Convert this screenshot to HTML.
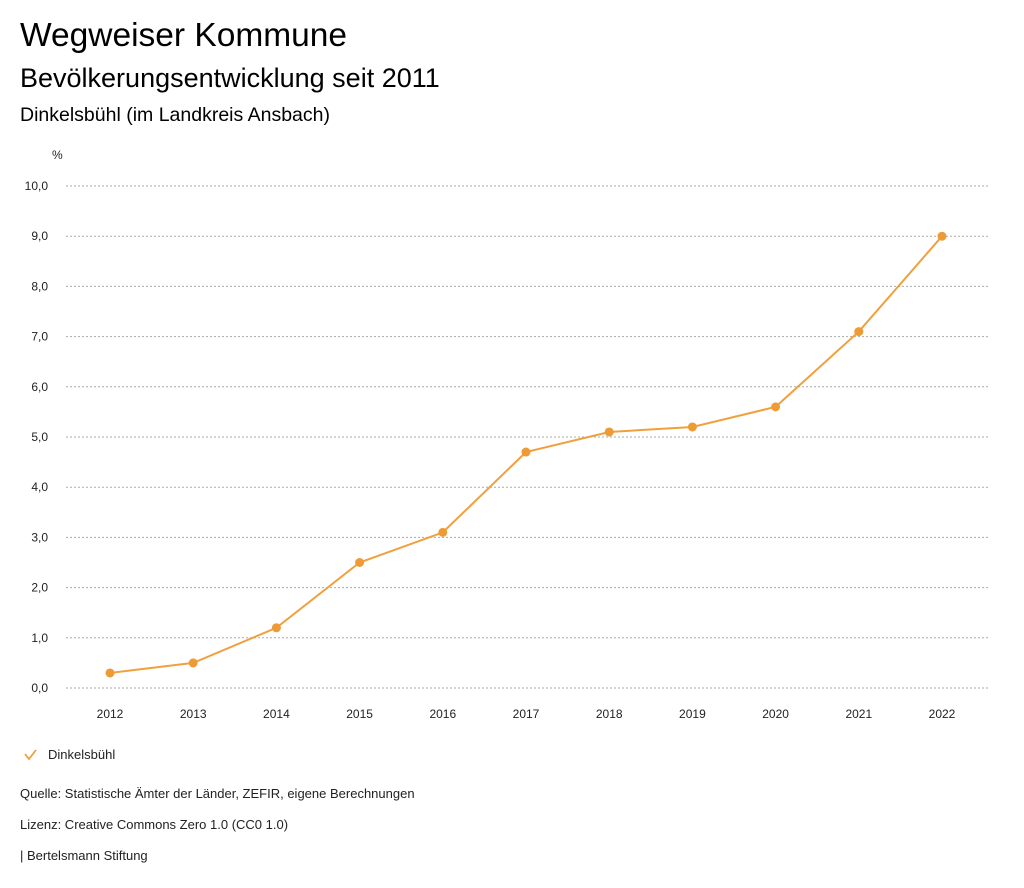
<!DOCTYPE html>
<html><head><meta charset="utf-8"><style>
body{margin:0;width:1024px;height:888px;background:#fff;font-family:"Liberation Sans","DejaVu Sans",sans-serif;color:#000;position:relative;overflow:hidden}
.t{position:absolute;left:20px;white-space:nowrap}
</style></head><body>
<div class="t" style="top:17px;font-size:33.5px">Wegweiser Kommune</div>
<div class="t" style="top:63px;font-size:27px">Bevölkerungsentwicklung seit 2011</div>
<div class="t" style="top:104px;font-size:19.5px">Dinkelsbühl (im Landkreis Ansbach)</div>
<svg id="chart" width="1024" height="888" style="position:absolute;left:0;top:0" font-family="Liberation Sans, DejaVu Sans, sans-serif"></svg>
<div class="t" style="top:786px;font-size:13px;color:#222">Quelle: Statistische Ämter der Länder, ZEFIR, eigene Berechnungen</div>
<div class="t" style="top:817px;font-size:13px;color:#222">Lizenz: Creative Commons Zero 1.0 (CC0 1.0)</div>
<div class="t" style="top:848px;font-size:13px;color:#222">| Bertelsmann Stiftung</div>
<script>
const years=["2012","2013","2014","2015","2016","2017","2018","2019","2020","2021","2022"];
const values=[0.3,0.5,1.2,2.5,3.1,4.7,5.1,5.2,5.6,7.1,9.0];
const yTicks=[0,1,2,3,4,5,6,7,8,9,10];
const NS="http://www.w3.org/2000/svg",svg=document.getElementById('chart');
const x=i=>110+i*(942-110)/(years.length-1);
const y=v=>688-v*50.2;
function mk(t,a){const e=document.createElementNS(NS,t);for(const k in a)e.setAttribute(k,a[k]);svg.appendChild(e);return e;}
let u=mk('text',{x:52,y:159,'font-size':12,fill:'#222'});u.textContent='%';


yTicks.forEach(v=>{
 const l=mk('line',{x1:66,x2:990,y1:y(v),y2:y(v),stroke:'#aaa','stroke-dasharray':'2,2','stroke-width':1});
 
 
 const t=mk('text',{x:48,y:y(v)+4,'text-anchor':'end','font-size':12,fill:'#222'});
 t.textContent=v.toFixed(1).replace('.',',');
 
 
});
years.forEach((yr,i)=>{
 const t=mk('text',{x:x(i),y:718,'text-anchor':'middle','font-size':12,fill:'#222'});
 t.textContent=yr;
 
 
});
const p=mk('polyline',{points:values.map((v,i)=>x(i)+','+y(v)).join(' '),fill:'none',stroke:'#f0a03c','stroke-width':2});


values.forEach((v,i)=>{
 const c=mk('circle',{cx:x(i),cy:y(v),r:4.5,fill:'#ee9a35'});
 
 
});
const ck=mk('polyline',{points:'25,754 29,759 36,750',fill:'none',stroke:'#f0a03c','stroke-width':1.8});


const lt=mk('text',{x:48,y:759,'font-size':13,fill:'#222'});
lt.textContent='Dinkelsbühl';


</script>
</body></html>
